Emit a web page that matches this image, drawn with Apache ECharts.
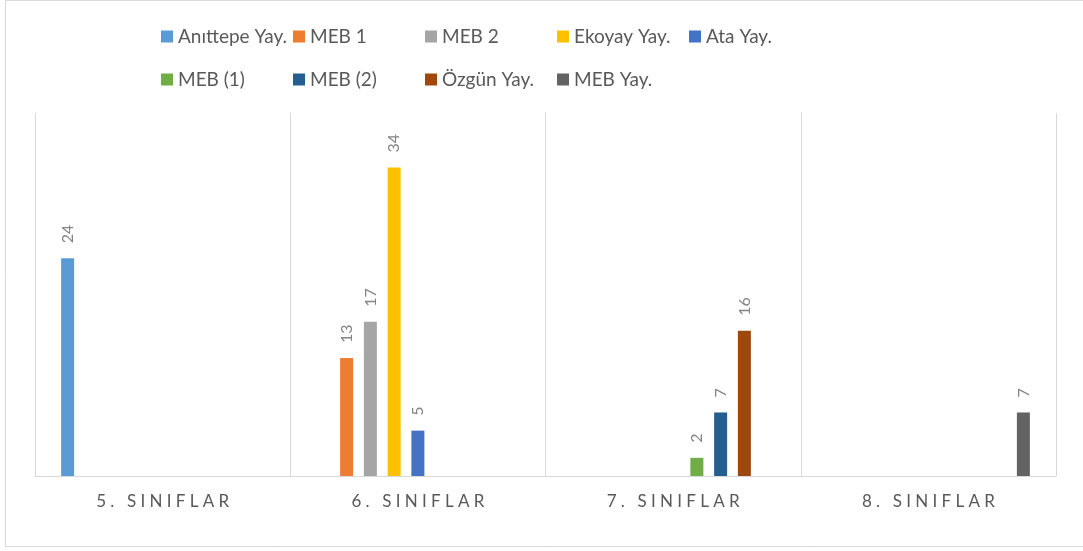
<!DOCTYPE html>
<html>
<head>
<meta charset="utf-8">
<script src="https://cdn.jsdelivr.net/npm/echarts@6/dist/echarts.min.js"></script>
<style>
    html, body { margin: 0; padding: 0; background: #fff; }
    #chart { width: 1083px; height: 551px; }
</style>
</head>
<body>
<div id="chart"></div>
<script>
    // categories on the x axis
    let categories = ['5. SINIFLAR', '6. SINIFLAR', '7. SINIFLAR', '8. SINIFLAR'];

    // series names (legend order)
    let seriesNames = ['Anıttepe Yay.', 'MEB 1', 'MEB 2', 'Ekoyay Yay.', 'Ata Yay.',
                       'MEB (1)', 'MEB (2)', 'Özgün Yay.', 'MEB Yay.'];

    // values per series, one per category (null = no bar)
    let anittepe = [24, null, null, null];
    let meb1     = [null, 13, null, null];
    let meb2     = [null, 17, null, null];
    let ekoyay   = [null, 34, null, null];
    let ata      = [null, 5, null, null];
    let mebP1    = [null, null, 2, null];
    let mebP2    = [null, null, 7, null];
    let ozgun    = [null, null, 16, null];
    let mebYay   = [null, null, null, 7];

    let seriesValues = [anittepe, meb1, meb2, ekoyay, ata, mebP1, mebP2, ozgun, mebYay];

    let colors = ['#5B9BD5', '#ED7D31', '#A5A5A5', '#FFC000', '#4472C4',
                  '#70AD47', '#255E91', '#9E480E', '#636363'];

    let fontFamily = 'Lato, "Open Sans", sans-serif';

    let series = seriesNames.map(function(name, i){
        return {
            name: name,
            type: 'bar',
            barWidth: 13,
            barGap: '82.7%',
            data: seriesValues[i],
            label: {
                show: true,
                position: 'top',
                rotate: 90,
                align: 'left',
                verticalAlign: 'middle',
                distance: 15,
                color: '#848484',
                fontSize: 16,
                fontFamily: fontFamily
            }
        };
    });

    let chart = echarts.init(document.getElementById('chart'));

    chart.setOption({
        animation: false,
        color: colors,
        graphic: [{
            type: 'rect',
            shape: { x: 5.5, y: 0.5, width: 1100, height: 546 },
            style: { fill: 'none', stroke: '#d9d9d9', lineWidth: 1 },
            silent: true
        }],
        legend: {
            data: seriesNames,
            left: 161,
            top: 15,
            padding: 0,
            width: 670,
            itemGap: 0,
            itemWidth: 12,
            itemHeight: 12,
            icon: 'rect',
            textStyle: {
                width: 115,
                lineHeight: 43,
                color: '#595959',
                fontSize: 19,
                fontFamily: fontFamily
            }
        },
        grid: {
            left: 35,
            right: 27,
            top: 113,
            bottom: 75
        },
        xAxis: {
            type: 'category',
            data: categories,
            axisTick: { show: false },
            axisLine: { lineStyle: { color: '#d9d9d9', width: 1 } },
            splitLine: { show: true, lineStyle: { color: '#d9d9d9', width: 1 } },
            axisLabel: {
                color: '#595959',
                fontSize: 17,
                fontFamily: fontFamily,
                margin: 17,
                // Excel style letter spacing
                formatter: function(val){
                    return val.split('').join('\u2005');
                }
            }
        },
        yAxis: {
            type: 'value',
            min: 0,
            max: 40,
            show: false,
            splitLine: { show: false }
        },
        series: series
    });
</script>
</body>
</html>
